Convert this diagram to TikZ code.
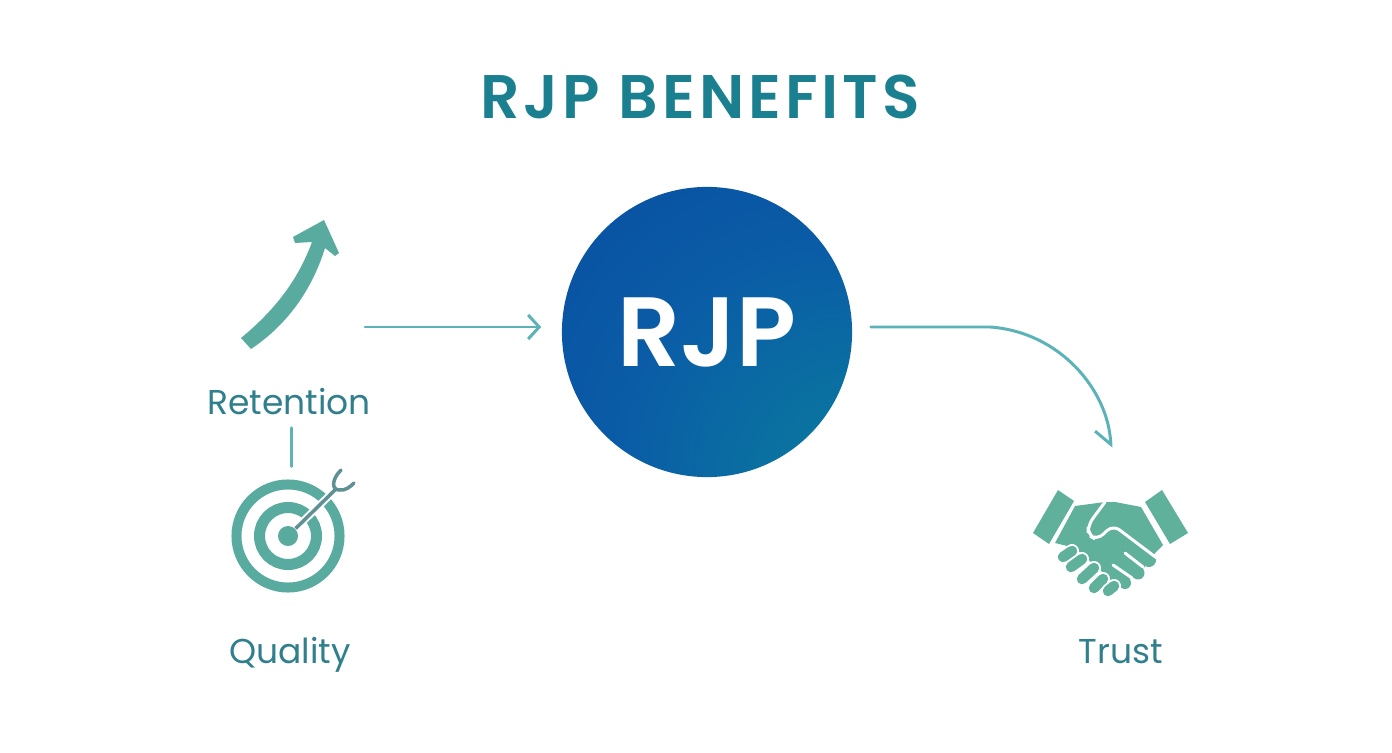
\documentclass[tikz,border=0pt]{standalone}
\usepackage{fontspec}
\setmainfont{Poppins}
\newfontfamily\semifont{Poppins SemiBold}
\usetikzlibrary{arrows.meta, shadings}
\definecolor{titleTeal}{HTML}{1A8090}
\definecolor{labelTeal}{HTML}{2F7F8C}
\definecolor{iconTeal}{HTML}{5AAB9F}
\definecolor{handTeal}{HTML}{5FB19B}
\definecolor{flowTeal}{HTML}{5BB3B7}
\definecolor{dartGrey}{HTML}{5F9094}
\definecolor{hubA}{HTML}{0A8F94}
\definecolor{hubB}{HTML}{0A74A0}
\definecolor{hubC}{HTML}{0A5CA6}
\definecolor{hubD}{HTML}{084CA2}
\pgfdeclareradialshading{hubshade}{\pgfpoint{33bp}{-33bp}}{color(0bp)=(hubA); color(14bp)=(hubB); color(36bp)=(hubC); color(62bp)=(hubD); color(100bp)=(hubD)}
\tikzstyle{headline} = [text=titleTeal, font=\semifont\fontsize{17.5}{20}\selectfont, inner sep=0pt]
\tikzstyle{benefit} = [text=labelTeal, font=\fontsize{9.8}{12}\selectfont, inner sep=0pt]
\tikzstyle{hubnode} = [circle, minimum size=2.9cm, inner sep=0pt, shading=hubshade, text=white, font=\semifont\fontsize{28}{30}\selectfont]
\tikzstyle{flow} = [draw=flowTeal, line width=.85pt, line cap=round, -{Straight Barb[length=.11cm,width=.24cm,line width=.85pt]}]
\tikzstyle{flowend} = [draw=flowTeal, line width=.85pt, line cap=round, -{Straight Barb[harpoon,swap,length=.14cm,width=.3cm,line width=.85pt]}]
\tikzstyle{ring} = [circle, draw=iconTeal, inner sep=0pt]
\tikzstyle{icon} = [fill=iconTeal, draw=none]
\tikzstyle{hand} = [fill=handTeal, draw=none]
\tikzstyle{finger} = [line width=.105cm, line cap=round, draw=handTeal]
\tikzstyle{halo} = [line width=.14cm, line cap=round, draw=white]
\tikzstyle{gapline} = [line width=.03cm, line cap=round, draw=white]

\begin{document}
\begin{tikzpicture}[x=.01cm, y=-.01cm]
        \useasboundingbox (0,0) rectangle (1392,752);

        % Nodes
        \node (title) [headline] at (700,97) {\addfontfeature{LetterSpace=6.5}RJP BENEFITS};
        \node (hub) [hubnode] at (707,332) {\raisebox{-.06cm}{RJP}};
        \node (retention) [benefit] at (289,402) {Retention};
        \node (quality) [benefit] at (290,655) {Quality};
        \node (trust) [benefit] at (1121,652) {Trust};

        % Growth arrow icon
        \path [icon] (241,338) -- (251,349) .. controls (287,325) and (312,290) .. (325,248)
            -- (335,256) -- (339,253) -- (324,220) -- (293,237) -- (295,243) -- (312,242)
            .. controls (298,280) and (275,310) .. cycle;

        % Target icon
        \node (target) [ring, line width=.1cm, minimum size=1.03cm] at (288,536) {};
        \node (targetMid) [ring, line width=.11cm, minimum size=.57cm] at (288,536) {};
        \node (targetDot) [circle, fill=iconTeal, minimum size=.2cm, inner sep=0pt] at (288,536) {};
        \draw [white, line width=.075cm] (targetDot) -- (335,490);
        \draw [dartGrey, line width=.035cm] (targetDot) -- (337,488);
        \draw [dartGrey, line width=.035cm, line cap=round] (341,470) .. controls (331,480) and (332,490) .. (339,490) .. controls (345,491) and (350,487) .. (354,483);

        % Handshake icon
        \node (handshake) [inner sep=0pt, minimum width=1.55cm, minimum height=1.05cm] at (1110,541) {};
        \path [hand] (1033,533) -- (1058,490) -- (1074,501) -- (1049,544) -- cycle;
        \path [hand] (1145,502) -- (1162,490) -- (1188,533) -- (1170,544) -- cycle;
        \path [hand] (1075,506) -- (1105,502) -- (1115,502) -- (1141,507) -- (1163,545) -- (1155,553)
            -- (1150,562) -- (1135,576) -- (1120,586) -- (1100,570) -- (1075,548) -- (1055,543) -- cycle;
        \draw [finger, line width=.14cm] (1130,546) -- (1149,560);
        \draw [finger, line width=.13cm] (1120,559) -- (1138,573);
        \draw [finger, line width=.12cm] (1108,571) -- (1125,583);
        \foreach \ax/\ay/\bx/\by in {1063/557/1072/551, 1071/567/1082/559, 1082/579/1094/568, 1094/588/1103/579, 1108/591/1114/586} {
            \draw [halo] (\ax,\ay) -- (\bx,\by);
            \draw [finger] (\ax,\ay) -- (\bx,\by);
        }
        \draw [gapline, rounded corners=.08cm] (1105,502) -- (1088,525) -- (1088,535) -- (1097,540) -- (1113,525) -- (1158,559);
        \draw [gapline] (1125,553) -- (1143,567);
        \draw [gapline] (1113,565) -- (1132,578);

        % Arrows
        \coordinate (retentionOut) at (365,327);
        \coordinate (trustBend) at (990,327);
        \draw [flow, shorten >=.2cm] (retentionOut) -- (hub.west |- retentionOut);
        \draw [flowend, shorten <=.18cm, shorten >=.4cm] (hub.east |- trustBend) -- (trustBend)
            .. controls (1060,332) and (1108,390) .. (handshake.north -| 1113,0);
        \draw [draw=flowTeal, line width=.85pt, line cap=round, shorten <=.12cm, shorten >=.13cm] (retention.south -| 291,0) -- (target.north -| 291,0);
\end{tikzpicture}
\end{document}
